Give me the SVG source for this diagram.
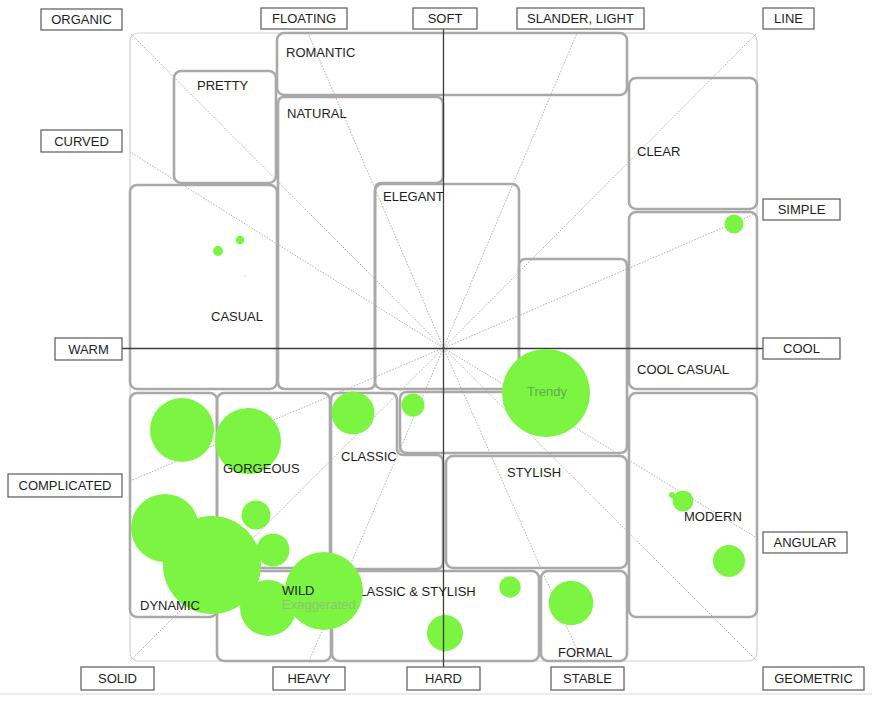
<svg xmlns="http://www.w3.org/2000/svg" width="872" height="702" viewBox="0 0 872 702">
<style>
.frame{fill:#fff;stroke:#d2d2d2;stroke-width:1.2}
.box{fill:none;stroke:#a9a9a9;stroke-width:2.6}
.ray{stroke:#ababab;stroke-width:0.9;stroke-dasharray:1.6 1.4;fill:none}
.axis{stroke:#3c3c3c;stroke-width:1.3}
.lbl rect{fill:#fff;stroke:#666;stroke-width:1.3}
text{font-family:"Liberation Sans",Arial,sans-serif;font-size:13px;fill:#1e1e1e}
.lbl text{text-anchor:middle}
.dot{fill:#7cf442}
</style>
<rect x="0" y="0" width="872" height="702" fill="#fff"/>
<rect x="0" y="693" width="872" height="2" fill="#ececec"/>
<rect id="frame" class="frame" x="130" y="33" width="627" height="628" rx="8"/>

<g id="regions">
  <g id="region-romantic"><rect class="box" x="277" y="33" width="350" height="62" rx="7"/></g>
  <g id="region-pretty"><rect class="box" x="174" y="71" width="102" height="112" rx="7"/></g>
  <g id="region-natural"><path class="box" d="M284,97 H436 Q443,97 443,104 V176 Q443,183 436,183 H382 Q375,183 375,190 V382 Q375,389 368,389 H285 Q278,389 278,382 V104 Q278,97 284,97 Z"/></g>
  <g id="region-casual"><rect class="box" x="130" y="185" width="147" height="204" rx="7"/></g>
  <g id="region-elegant"><rect class="box" x="375" y="184" width="144" height="205" rx="7"/></g>
  <g id="region-clear"><rect class="box" x="629" y="78" width="128" height="131" rx="7"/></g>
  <g id="region-cool-casual"><rect class="box" x="629" y="212" width="128" height="177" rx="7"/></g>
  <g id="region-modern"><rect class="box" x="629" y="393" width="128" height="224" rx="7"/></g>
  <g id="region-trendy"><path class="box" d="M526,259 H620 Q627,259 627,266 V446 Q627,453 620,453 H407 Q400,453 400,446 V399 Q400,392 407,392 H512 Q519,392 519,385 V266 Q519,259 526,259 Z"/></g>
  <g id="region-stylish"><rect class="box" x="446" y="456" width="181" height="112" rx="7"/></g>
  <g id="region-classic"><path class="box" d="M338,393 H390 Q397,393 397,400 V449 Q397,455 404,455 H436 Q443,455 443,462 V562 Q443,569 436,569 H338 Q331,569 331,562 V400 Q331,393 338,393 Z"/></g>
  <g id="region-dynamic"><rect class="box" x="130" y="393" width="87" height="224" rx="7"/></g>
  <g id="region-gorgeous"><rect class="box" x="217" y="393" width="113" height="175" rx="7"/></g>
  <g id="region-wild"><rect class="box" x="217" y="571" width="114" height="90" rx="7"/></g>
  <g id="region-classic-stylish"><rect class="box" x="332" y="571" width="207" height="90" rx="7"/></g>
  <g id="region-formal"><rect class="box" x="541" y="571" width="86" height="90" rx="7"/></g>
</g>

<g id="connectors">
  <line class="ray" x1="443.5" y1="348" x2="130" y2="33"/>
  <line class="ray" x1="443.5" y1="348" x2="308" y2="33"/>
  <line class="ray" x1="443.5" y1="348" x2="577" y2="33"/>
  <line class="ray" x1="443.5" y1="348" x2="757" y2="33"/>
  <line class="ray" x1="443.5" y1="348" x2="130" y2="152"/>
  <line class="ray" x1="443.5" y1="348" x2="757" y2="213"/>
  <line class="ray" x1="443.5" y1="348" x2="130" y2="481"/>
  <line class="ray" x1="443.5" y1="348" x2="757" y2="538"/>
  <line class="ray" x1="443.5" y1="348" x2="130" y2="661"/>
  <line class="ray" x1="443.5" y1="348" x2="309" y2="661"/>
  <line class="ray" x1="443.5" y1="348" x2="582" y2="661"/>
  <line class="ray" x1="443.5" y1="348" x2="757" y2="661"/>
  <line class="axis" x1="443.5" y1="29" x2="443.5" y2="667"/>
  <line class="axis" x1="122" y1="348.5" x2="763" y2="348.5"/>
</g>

<g id="region-captions-under">
  <text id="caption-classic-stylish" x="350" y="596">CLASSIC &amp; STYLISH</text>
</g>

<g id="bubbles">
  <circle class="dot" cx="218" cy="251" r="5"/>
  <circle class="dot" cx="240" cy="240" r="4.3"/>
  <circle cx="245" cy="276" r="1" fill="#d6ecc8"/>
  <circle class="dot" cx="734" cy="224" r="9.5"/>
  <circle class="dot" cx="546" cy="393" r="44"/>
  <circle class="dot" cx="413" cy="405" r="11.5"/>
  <circle class="dot" cx="353" cy="413" r="21.5"/>
  <circle class="dot" cx="182" cy="430" r="32"/>
  <circle class="dot" cx="248" cy="441" r="33"/>
  <circle class="dot" cx="165" cy="528" r="34"/>
  <circle class="dot" cx="212" cy="565" r="49"/>
  <circle class="dot" cx="256" cy="515" r="14.5"/>
  <circle class="dot" cx="273" cy="550" r="16.5"/>
  <circle class="dot" cx="268" cy="608" r="28"/>
  <circle class="dot" cx="324" cy="591" r="39"/>
  <circle class="dot" cx="445" cy="633" r="18"/>
  <circle class="dot" cx="510" cy="587" r="10.7"/>
  <circle class="dot" cx="571" cy="603" r="22.3"/>
  <circle class="dot" cx="683" cy="501" r="10.5"/>
  <circle class="dot" cx="672" cy="495" r="3"/>
  <circle class="dot" cx="729" cy="561" r="16"/>
</g>

<line x1="443.5" y1="614" x2="443.5" y2="652" class="axis"/>

<g id="region-captions">
  <text id="caption-romantic" x="286" y="57">ROMANTIC</text>
  <text id="caption-pretty" x="197" y="90">PRETTY</text>
  <text id="caption-natural" x="287" y="118">NATURAL</text>
  <text id="caption-elegant" x="383" y="201">ELEGANT</text>
  <text id="caption-clear" x="637" y="156">CLEAR</text>
  <text id="caption-casual" x="211" y="321">CASUAL</text>
  <text id="caption-cool-casual" x="637" y="374">COOL CASUAL</text>
  <text id="caption-trendy" x="547" y="396" text-anchor="middle" style="fill:#62ab4c">Trendy</text>
  <text id="caption-classic" x="341" y="461">CLASSIC</text>
  <text id="caption-gorgeous" x="223" y="473">GORGEOUS</text>
  <text id="caption-stylish" x="507" y="477">STYLISH</text>
  <text id="caption-modern" x="684" y="521">MODERN</text>
  <text id="caption-wild" x="282" y="595">WILD</text>
  <text id="caption-exaggerated" x="282" y="609" style="fill:#8cc474">Exaggerated</text>
  <text id="caption-dynamic" x="140" y="610">DYNAMIC</text>
  <text id="caption-formal" x="558" y="657">FORMAL</text>
</g>

<g id="axis-labels">
  <g id="lbl-organic" class="lbl"><rect x="41" y="9" width="81" height="21"/><text x="81.5" y="24.2">ORGANIC</text></g>
  <g id="lbl-floating" class="lbl"><rect x="261" y="8" width="86" height="21"/><text x="304" y="23.2">FLOATING</text></g>
  <g id="lbl-soft" class="lbl"><rect x="413" y="8" width="64" height="21"/><text x="445" y="23.2">SOFT</text></g>
  <g id="lbl-slander-light" class="lbl"><rect x="517" y="8" width="127" height="21"/><text x="580.5" y="23.2">SLANDER, LIGHT</text></g>
  <g id="lbl-line" class="lbl"><rect x="763" y="8" width="51" height="21"/><text x="788.5" y="23.2">LINE</text></g>
  <g id="lbl-curved" class="lbl"><rect x="41" y="130" width="81" height="22"/><text x="81.5" y="145.7">CURVED</text></g>
  <g id="lbl-simple" class="lbl"><rect x="763" y="199" width="77" height="21"/><text x="801.5" y="214.2">SIMPLE</text></g>
  <g id="lbl-warm" class="lbl"><rect x="55" y="338" width="67" height="22"/><text x="88.5" y="353.7">WARM</text></g>
  <g id="lbl-cool" class="lbl"><rect x="763" y="338" width="77" height="21"/><text x="801.5" y="353.2">COOL</text></g>
  <g id="lbl-complicated" class="lbl"><rect x="8" y="474" width="114" height="23"/><text x="65" y="490.2">COMPLICATED</text></g>
  <g id="lbl-angular" class="lbl"><rect x="763" y="532" width="84" height="21"/><text x="805" y="547.2">ANGULAR</text></g>
  <g id="lbl-solid" class="lbl"><rect x="81" y="667" width="73" height="23"/><text x="117.5" y="683.2">SOLID</text></g>
  <g id="lbl-heavy" class="lbl"><rect x="273" y="667" width="72" height="23"/><text x="309" y="683.2">HEAVY</text></g>
  <g id="lbl-hard" class="lbl"><rect x="407" y="667" width="73" height="23"/><text x="443.5" y="683.2">HARD</text></g>
  <g id="lbl-stable" class="lbl"><rect x="551" y="667" width="73" height="23"/><text x="587.5" y="683.2">STABLE</text></g>
  <g id="lbl-geometric" class="lbl"><rect x="763" y="667" width="101" height="23"/><text x="813.5" y="683.2">GEOMETRIC</text></g>
</g>
</svg>
